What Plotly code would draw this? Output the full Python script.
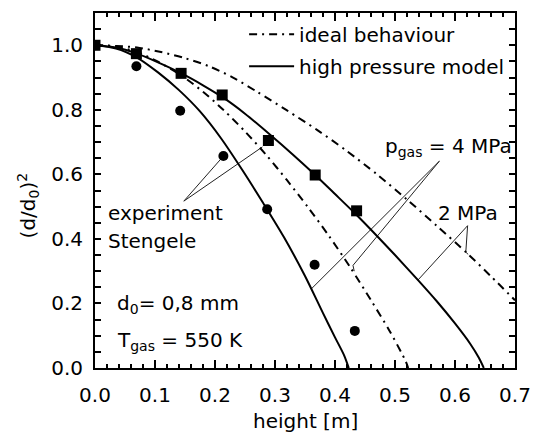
import plotly.graph_objects as go

# ---- data ----
# high pressure model, p_gas = 4 MPa (solid, left)
hp4_x = [0.0, 0.035, 0.07, 0.105, 0.14, 0.175, 0.21, 0.245, 0.28, 0.315, 0.35, 0.38, 0.40, 0.415, 0.423]
hp4_y = [1.0, 0.99, 0.962, 0.916, 0.861, 0.795, 0.712, 0.615, 0.512, 0.405, 0.285, 0.17, 0.095, 0.04, 0.0]
# ideal behaviour, p_gas = 4 MPa (dash-dot, middle)
id4_x = [0.0, 0.035, 0.07, 0.105, 0.145, 0.18, 0.215, 0.25, 0.285, 0.32, 0.355, 0.39, 0.425, 0.46, 0.49, 0.51, 0.518, 0.522]
id4_y = [1.0, 0.996, 0.979, 0.949, 0.905, 0.856, 0.798, 0.733, 0.661, 0.582, 0.498, 0.409, 0.313, 0.21, 0.118, 0.05, 0.02, 0.0]
# high pressure model, p_gas = 2 MPa (solid, right)
hp2_x = [0.0, 0.035, 0.07, 0.105, 0.145, 0.18, 0.215, 0.25, 0.29, 0.33, 0.367, 0.40, 0.436, 0.47, 0.50, 0.538, 0.57, 0.60, 0.625, 0.64, 0.648]
hp2_y = [1.0, 0.993, 0.974, 0.947, 0.912, 0.876, 0.836, 0.788, 0.726, 0.661, 0.598, 0.539, 0.474, 0.409, 0.35, 0.273, 0.206, 0.138, 0.076, 0.031, 0.0]
# ideal behaviour, p_gas = 2 MPa (dash-dot, right)
id2_x = [0.0, 0.035, 0.07, 0.11, 0.15, 0.19, 0.23, 0.27, 0.32, 0.37, 0.42, 0.47, 0.52, 0.57, 0.62, 0.66, 0.7]
id2_y = [1.0, 0.998, 0.993, 0.979, 0.96, 0.935, 0.9, 0.856, 0.798, 0.738, 0.672, 0.6, 0.522, 0.44, 0.356, 0.284, 0.21]
# experiment Stengele
exp4_x = [0.0, 0.069, 0.142, 0.214, 0.287, 0.366, 0.433]
exp4_y = [1.0, 0.935, 0.797, 0.657, 0.492, 0.32, 0.115]
exp2_x = [0.0, 0.069, 0.1435, 0.212, 0.289, 0.367, 0.436]
exp2_y = [1.0, 0.974, 0.913, 0.846, 0.705, 0.598, 0.487]

# leader lines (label anchor -> curve)
lead_x = [0.148, 0.209, None, 0.148, 0.279, None,
          0.574, 0.361, None, 0.574, 0.430, 0.432, None,
          0.621, 0.538, None, 0.621, 0.618, 0.622]
lead_y = [0.517, 0.646, None, 0.517, 0.685, None,
          0.641, 0.246, None, 0.641, 0.318, 0.300, None,
          0.441, 0.272, None, 0.441, 0.359, 0.352]

FONT = "DejaVu Sans"
DASHDOT = "8px,5px,2px,5px"

fig = go.Figure()
fig.add_trace(go.Scatter(x=lead_x, y=lead_y, mode="lines", line=dict(color="#222", width=1),
                         showlegend=False, hoverinfo="skip"))
fig.add_trace(go.Scatter(x=id2_x, y=id2_y, mode="lines", name="ideal behaviour", legendgroup="a",
                         line=dict(color="black", width=2, dash=DASHDOT, shape="spline", smoothing=0.8)))
fig.add_trace(go.Scatter(x=id4_x, y=id4_y, mode="lines", showlegend=False,
                         line=dict(color="black", width=2, dash=DASHDOT, shape="spline", smoothing=0.8)))
fig.add_trace(go.Scatter(x=hp2_x, y=hp2_y, mode="lines", name="high pressure model", legendgroup="b",
                         line=dict(color="black", width=2, shape="spline", smoothing=0.8)))
fig.add_trace(go.Scatter(x=hp4_x, y=hp4_y, mode="lines", showlegend=False,
                         line=dict(color="black", width=2, shape="spline", smoothing=0.8)))
fig.add_trace(go.Scatter(x=exp4_x, y=exp4_y, mode="markers", showlegend=False,
                         marker=dict(symbol="circle", size=10, color="black")))
fig.add_trace(go.Scatter(x=exp2_x, y=exp2_y, mode="markers", showlegend=False,
                         marker=dict(symbol="square", size=11, color="black")))

ann_font = dict(family=FONT, size=20, color="black")
annotations = [
    dict(text="experiment", x=0.019, y=0.481, xanchor="left", yanchor="middle"),
    dict(text="Stengele", x=0.019, y=0.393, xanchor="left", yanchor="middle"),
    dict(text="p<sub>gas</sub> = 4 MPa", x=0.480, y=0.684, xanchor="left", yanchor="middle"),
    dict(text="2 MPa", x=0.568, y=0.48, xanchor="left", yanchor="middle"),
    dict(text="d<sub>0</sub>= 0,8 mm", x=0.033, y=0.198, xanchor="left", yanchor="middle"),
    dict(text="T<sub>gas</sub> = 550 K", x=0.033, y=0.085, xanchor="left", yanchor="middle"),
]
for a in annotations:
    a.update(xref="x", yref="y", showarrow=False, font=ann_font)
annotations.append(dict(text="height [m]", xref="paper", yref="paper", x=0.5, y=-0.148,
                        xanchor="center", yanchor="middle", showarrow=False, font=ann_font))
annotations.append(dict(text="(d/d<sub>0</sub>)<sup>2</sup>", xref="paper", yref="paper", x=-0.158, y=0.457,
                        xanchor="center", yanchor="middle", textangle=-90, showarrow=False, font=ann_font))

axis_common = dict(showline=True, linecolor="black", linewidth=2, mirror="allticks",
                   ticks="inside", tickcolor="black", tickwidth=1.5, showgrid=False, zeroline=False,
                   tickfont=dict(family=FONT, size=20, color="black"))
fig.update_layout(
    width=542, height=436,
    margin=dict(l=95, r=24, t=11, b=68),
    paper_bgcolor="white", plot_bgcolor="white",
    font=dict(family=FONT, size=20, color="black"),
    xaxis=dict(range=[0, 0.7], dtick=0.1, tick0=0, tickformat=".1f", ticklen=8,
               minor=dict(dtick=0.02, ticklen=4, ticks="inside", tickcolor="black", tickwidth=1.5),
               ticklabelstandoff=8, **axis_common),
    yaxis=dict(range=[0, 1.1], dtick=0.2, tick0=0, tickformat=".1f", ticklen=6,
               minor=dict(dtick=0.05, ticklen=6, ticks="inside", tickcolor="black", tickwidth=1.5),
               ticklabelstandoff=6, **axis_common),
    legend=dict(x=0.355, y=0.995, xanchor="left", yanchor="top", bgcolor="rgba(0,0,0,0)",
                itemwidth=45, traceorder="grouped", tracegroupgap=3,
                font=dict(family=FONT, size=20, color="black")),
    annotations=annotations,
)

fig.write_html("out.html")
